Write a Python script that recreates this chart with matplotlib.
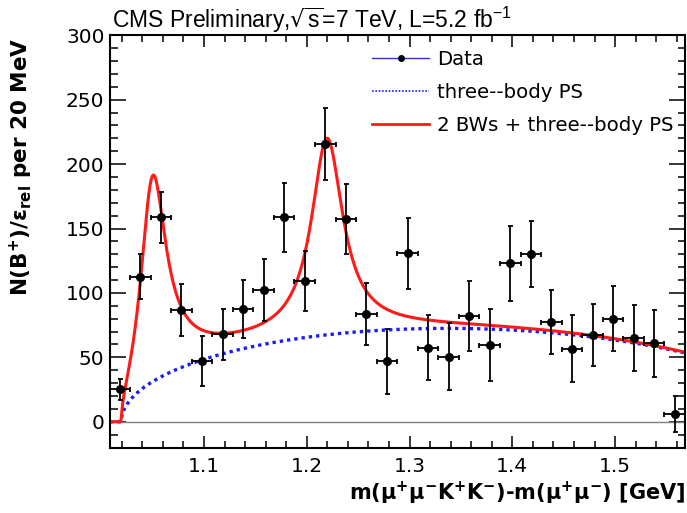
import numpy as np
import matplotlib
matplotlib.use('Agg')
import matplotlib.pyplot as plt
from matplotlib.lines import Line2D
from matplotlib.ticker import MultipleLocator

plt.rcParams['font.family'] = ['DejaVu Sans']
plt.rcParams['mathtext.default'] = 'regular'

# bin centres of dM = m(mumuKK) - m(mumu) [GeV], 20 MeV bins
mass = [1.018, 1.038, 1.058, 1.078, 1.098, 1.118, 1.138, 1.158, 1.178, 1.198,
        1.218, 1.238, 1.258, 1.278, 1.298, 1.318, 1.338, 1.358, 1.378, 1.398,
        1.418, 1.438, 1.458, 1.478, 1.498, 1.518, 1.538, 1.558]
counts = [25.2, 112.6, 158.7, 86.7, 47.1, 67.9, 87.5, 102.3, 158.7, 109.2,
          215.6, 157.4, 83.4, 46.8, 130.7, 57.5, 50.5, 82.0, 59.5, 123.0,
          130.4, 77.2, 56.7, 67.3, 80.0, 64.8, 60.9, 5.7]
errors = [8.2, 17.4, 19.8, 20.3, 19.2, 19.8, 22.4, 24.0, 26.7, 23.0,
          28.0, 26.8, 24.0, 25.0, 27.4, 25.0, 26.0, 27.0, 28.0, 29.0,
          25.8, 25.0, 26.0, 24.0, 25.0, 25.5, 26.0, 14.0]
half_bin = 0.01

# fit result: two Breit-Wigners on top of three-body phase space
bw_mass = [1.0487, 1.2195]
bw_width = [0.030, 0.037]
bw_height = [157.0, 150.0]
ps_height = 72.5

M_B, M_K, M_JPSI, M_PHI = 5.2792, 0.4937, 3.0969, 1.0195


def momentum(M, m1, m2):
    s = (M**2 - (m1 + m2)**2) * (M**2 - (m1 - m2)**2)
    return np.sqrt(np.clip(s, 0, None)) / (2 * M)


def phase_space(dm):
    m = dm + M_JPSI
    return momentum(m, M_JPSI, M_PHI) * momentum(M_B, m, M_K)


x = np.linspace(1.0085, 1.568, 800)
ps = phase_space(x)
background = ps_height * ps / ps.max()
total = background.copy()
for m0, w, h in zip(bw_mass, bw_width, bw_height):
    g2 = (w / 2)**2
    total += h * ps / phase_space(m0) * g2 / ((x - m0)**2 + g2)

W, H = 687, 513
fig = plt.figure(figsize=(W / 100, H / 100), dpi=100)
ax = fig.add_axes([110 / W, 1 - 447.5 / H, 575 / W, (447.5 - 35.3) / H])

ax.axhline(0, color='#808080', lw=1)
ax.plot(x, background, color='#1a1aff', lw=2.4, linestyle=(0, (1, 1.2)))
ax.plot(x, total, color='#ff1a1a', lw=2.2)
ax.errorbar(mass, counts, yerr=errors, xerr=half_bin, fmt='o', color='black',
            ms=5.5, elinewidth=1.3, capsize=1.8, capthick=1.3)

ax.set_xlim(1.0085, 1.568)
ax.set_ylim(-20, 300)
ax.xaxis.set_major_locator(MultipleLocator(0.1))
ax.xaxis.set_minor_locator(MultipleLocator(0.02))
ax.yaxis.set_major_locator(MultipleLocator(50))
ax.yaxis.set_minor_locator(MultipleLocator(10))
ax.set_yticks([0, 50, 100, 150, 200, 250, 300])
ax.tick_params(which='both', direction='in', top=True, right=True, width=1.1)
ax.tick_params(axis='y', which='major', length=11.5, pad=4, labelsize=14.5)
ax.tick_params(axis='y', which='minor', length=5.4)
ax.tick_params(axis='x', which='major', length=8.4, pad=7, labelsize=14.5)
ax.tick_params(axis='x', which='minor', length=4.8)
for s in ax.spines.values():
    s.set_linewidth(1.5)

handles = [
    Line2D([], [], color='#3333cc', lw=1, marker='o', ms=4, mfc='black', mec='black'),
    Line2D([], [], color='#1a1aff', lw=1.2, linestyle=(0, (1, 1))),
    Line2D([], [], color='#ff1a1a', lw=2),
]
labels = ['Data', 'three--body PS', '2 BWs + three--body PS']
fig.legend(handles, labels, loc='upper left', bbox_to_anchor=(372 / W, 1 - 50 / H),
           frameon=False, fontsize=14.2, handlelength=2.9, handletextpad=0.4,
           labelspacing=0.72, borderpad=0, borderaxespad=0)

fig.text(112 / W, 1 - 28 / H, r'CMS Preliminary,$\sqrt{s}$=7 TeV, L=5.2 fb$^{-1}$',
         ha='left', va='baseline', fontsize=16.5, family=['Liberation Sans', 'DejaVu Sans'])
fig.text(21 / W, 1 - 38 / H, r'N(B$^{+}$)/ε$_{rel}$ per 20 MeV', rotation=90,
         ha='center', va='top', fontsize=15.5, fontweight='bold')
fig.text(685 / W, 1 - 493 / H, r'm(μ$^{+}$μ$^{-}$K$^{+}$K$^{-}$)-m(μ$^{+}$μ$^{-}$) [GeV]',
         ha='right', va='center', fontsize=15, fontweight='bold')

fig.savefig('out.png', dpi=100)
